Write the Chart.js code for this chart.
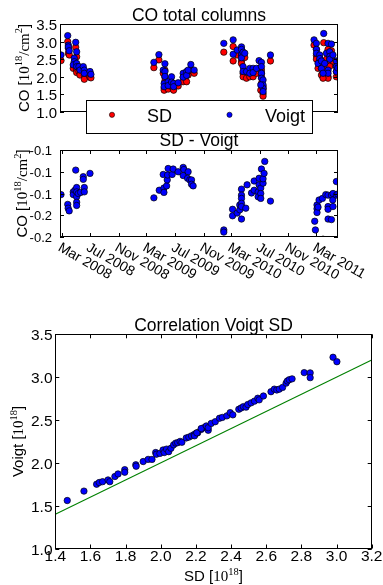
<!DOCTYPE html>
<html><head><meta charset="utf-8">
<script src="https://cdn.jsdelivr.net/npm/chart.js@4.4.0/dist/chart.umd.min.js"></script>
<style>
html,body{margin:0;padding:0;background:#fff;}
#wrap{position:relative;width:383px;height:585px;overflow:hidden;background:#fff;}
canvas{position:absolute;left:0;top:0;}
</style></head>
<body><div id="wrap">
<canvas id="c1" width="383" height="585"></canvas>
<canvas id="c2" width="383" height="585"></canvas>
<canvas id="c3" width="383" height="585"></canvas>
</div>
<script>
// ---------- DATA ----------
// Top panel: CO total columns (dates as decimal years)
const topDates = [
2008.156,2008.235,2008.242,2008.242,2008.253,2008.329,2008.340,2008.312,2008.312,2008.300,2008.340,2008.340,2008.367,2008.379,2008.418,2008.430,2008.430,2008.497,2008.508,
2009.249,2009.308,2009.379,2009.359,2009.379,2009.379,2009.370,2009.370,2009.417,2009.417,2009.457,2009.457,2009.481,2009.481,2009.535,2009.594,2009.594,2009.634,2009.634,2009.652,2009.684,2009.723,
2010.072,2010.182,2010.182,2010.229,2010.280,2010.280,2010.280,2010.280,2010.299,2010.299,2010.299,2010.319,2010.339,2010.378,2010.378,2010.417,2010.417,2010.457,2010.487,2010.515,2010.515,2010.515,2010.515,2010.534,2010.534,2010.534,2010.534,2010.507,2010.621,
2011.134,2011.162,2011.162,2011.162,2011.248,2011.201,2011.201,2011.181,2011.299,2011.299,2011.299,2011.339,2011.280,2011.319,2011.319,2011.319,2011.221,2011.221,2011.240,2011.357,2011.397,2011.397,2011.397,2011.260,2011.413,2011.436];
const topSD = [
2.46,3.00,2.81,2.67,2.62,2.84,2.57,2.36,2.30,2.24,2.19,2.12,2.15,2.05,2.19,2.05,1.93,1.99,1.97,
2.26,2.48,2.19,2.10,1.99,1.88,1.68,1.62,1.75,1.65,1.85,1.72,1.68,1.62,1.74,1.99,1.86,2.04,1.86,2.05,2.19,2.10,
2.70,2.86,2.45,2.62,2.72,2.61,2.45,2.38,2.59,2.10,2.00,2.55,1.96,2.10,2.00,2.10,2.00,2.10,2.24,2.19,2.10,2.00,1.81,1.72,1.65,1.52,1.45,1.62,2.45,
2.90,2.78,2.60,2.50,2.97,2.45,2.36,2.24,2.78,2.00,1.96,2.74,2.50,2.50,2.38,2.30,2.24,2.05,1.96,2.45,2.30,2.15,2.00,2.20,2.10,2.30];
const topVoigt = [
2.62,3.17,2.90,2.85,2.74,2.98,2.71,2.53,2.43,2.34,2.38,2.29,2.29,2.19,2.29,2.19,2.10,2.15,2.07,
2.41,2.63,2.37,2.19,2.15,2.01,1.81,1.72,1.86,1.75,2.00,1.85,1.81,1.72,1.83,2.10,1.99,2.15,2.04,2.19,2.35,2.19,
2.95,3.05,2.64,2.76,2.85,2.78,2.62,2.54,2.70,2.29,2.15,2.67,2.15,2.24,2.10,2.24,2.12,2.24,2.46,2.41,2.29,2.10,1.96,1.91,1.77,1.67,1.58,1.77,2.62,
3.05,2.95,2.78,2.67,3.23,2.62,2.52,2.38,2.95,2.19,2.10,2.93,2.67,2.71,2.58,2.50,2.45,2.24,2.10,2.62,2.45,2.29,2.15,2.38,2.25,2.48];
const topYTicks = [1.0,1.5,2.0,2.5,3.0,3.5];

// Middle panel: SD - Voigt
const diffDates = [
2008.156,2008.235,2008.240,2008.252,2008.329,2008.300,2008.300,2008.320,2008.340,2008.340,2008.340,2008.340,2008.340,2008.359,2008.387,2008.418,2008.418,2008.430,2008.430,2008.497,
2009.249,2009.312,2009.367,2009.367,2009.399,2009.406,2009.359,2009.410,2009.417,2009.464,2009.476,2009.535,2009.594,2009.602,2009.594,2009.652,2009.645,2009.672,2009.692,2009.692,2009.711,
2010.072,2010.072,2010.175,2010.175,2010.229,2010.260,2010.260,2010.280,2010.280,2010.280,2010.280,2010.280,2010.280,2010.331,2010.346,2010.398,2010.429,2010.429,2010.476,2010.476,2010.487,2010.487,2010.507,2010.507,2010.507,2010.515,2010.534,2010.534,2010.546,2010.554,2010.621,
2011.150,2011.142,2011.169,2011.169,2011.169,2011.181,2011.193,2011.240,2011.233,2011.272,2011.299,2011.299,2011.299,2011.299,2011.339,2011.339,2011.354,2011.357,2011.357,2011.397,2011.397,2011.413];
const diffValues = [
-0.142,-0.160,-0.167,-0.172,-0.097,-0.137,-0.142,-0.134,-0.129,-0.137,-0.146,-0.156,-0.162,-0.140,-0.138,-0.109,-0.114,-0.129,-0.137,-0.103,
-0.148,-0.134,-0.130,-0.138,-0.126,-0.115,-0.105,-0.106,-0.094,-0.105,-0.095,-0.100,-0.092,-0.096,-0.107,-0.100,-0.112,-0.115,-0.115,-0.123,-0.126,
-0.207,-0.211,-0.169,-0.181,-0.176,-0.161,-0.170,-0.132,-0.143,-0.149,-0.158,-0.164,-0.187,-0.167,-0.124,-0.139,-0.117,-0.134,-0.137,-0.146,-0.112,-0.124,-0.130,-0.140,-0.149,-0.095,-0.121,-0.113,-0.103,-0.081,-0.154,
-0.207,-0.191,-0.161,-0.168,-0.175,-0.165,-0.152,-0.224,-0.149,-0.142,-0.143,-0.164,-0.169,-0.187,-0.188,-0.143,-0.152,-0.140,-0.164,-0.118,-0.143,-0.141];
const diffYTicks = [-0.22,-0.18,-0.14,-0.10,-0.06];

// Shared date axis
const dateTickValues = [2008.164,2008.497,2008.833,2009.162,2009.496,2009.833,2010.162,2010.496,2010.833,2011.162];
const dateTickLabels = ['Mar 2008','Jul 2008','Nov 2008','Mar 2009','Jul 2009','Nov 2009','Mar 2010','Jul 2010','Nov 2010','Mar 2011'];
const dateMin = 2008.144, dateMax = 2011.416;

// Bottom panel: Correlation Voigt SD
const corrSD = [1.468,1.563,1.635,1.65,1.669,1.70,1.71,1.739,1.757,1.795,1.795,1.858,1.86,1.90,1.928,1.95,1.971,1.975,1.995,2.013,2.02,2.033,2.045,2.058,2.073,2.085,2.096,2.11,2.12,2.145,2.16,2.175,2.19,2.202,2.21,2.23,2.245,2.26,2.27,
2.192,2.205,2.23,2.259,2.27,2.287,2.31,2.334,2.35,2.376,2.395,2.41,2.444,2.457,2.47,2.485,2.495,2.514,2.533,2.552,2.56,2.584,2.627,2.646,2.66,2.674,2.693,2.713,2.72,2.731,2.747,2.816,2.85,2.85,2.98,3.002];
const corrVoigt = [1.56,1.67,1.75,1.77,1.78,1.80,1.78,1.84,1.87,1.92,1.89,1.977,1.96,2.015,2.04,2.04,2.12,2.10,2.11,2.15,2.12,2.16,2.13,2.17,2.21,2.23,2.235,2.25,2.24,2.29,2.30,2.315,2.33,2.346,2.35,2.39,2.41,2.42,2.38,
2.315,2.35,2.40,2.43,2.41,2.46,2.48,2.52,2.53,2.548,2.586,2.56,2.625,2.64,2.656,2.65,2.68,2.70,2.72,2.754,2.735,2.78,2.83,2.86,2.85,2.86,2.88,2.93,2.955,2.97,2.98,3.053,3.05,2.994,3.232,3.18];
const oneToOneX = [1.4,3.2];
const oneToOneY = [1.4,3.2];
const corrXTicks = [1.4,1.6,1.8,2.0,2.2,2.4,2.6,2.8,3.0,3.2];
const corrYTicks = [1.0,1.5,2.0,2.5,3.0,3.5];

// ---------- HELPERS ----------
const SANS = '"Liberation Sans", Arial, Helvetica, sans-serif';
const SERIF = '"Liberation Serif", "Times New Roman", serif';
function pts(xs, ys){ return xs.map((x,i)=>({x:x, y:ys[i]})); }
function dot(color){ return {backgroundColor:color, borderColor:'#000', borderWidth:0.7, pointRadius:3.2, pointHoverRadius:3.2, clip:0}; }

function frame(ctx, a){
  ctx.save(); ctx.strokeStyle='#000'; ctx.lineWidth=1;
  const l=Math.round(a.left), t=Math.round(a.top), r=Math.round(a.right), b=Math.round(a.bottom);
  ctx.strokeRect(l+0.5, t+0.5, r-l-1, b-t-1); ctx.restore();
}
function yTickMarks(ctx, chart, vals, len){
  const a=chart.chartArea, s=chart.scales.y;
  ctx.save(); ctx.strokeStyle='#000'; ctx.lineWidth=1; ctx.beginPath();
  vals.forEach(v=>{ const y=Math.round(s.getPixelForValue(v))+0.5;
    ctx.moveTo(a.left, y); ctx.lineTo(a.left+len, y);
    ctx.moveTo(a.right, y); ctx.lineTo(a.right-len, y); });
  ctx.stroke(); ctx.restore();
}
function xTickMarks(ctx, chart, vals, len){
  const a=chart.chartArea, s=chart.scales.x;
  ctx.save(); ctx.strokeStyle='#000'; ctx.lineWidth=1; ctx.beginPath();
  vals.forEach(v=>{ const x=Math.round(s.getPixelForValue(v))+0.5;
    ctx.moveTo(x, a.bottom); ctx.lineTo(x, a.bottom-len);
    ctx.moveTo(x, a.top); ctx.lineTo(x, a.top+len); });
  ctx.stroke(); ctx.restore();
}
function yLabels(ctx, chart, vals, xRight, fs, fmt){
  const s=chart.scales.y;
  ctx.save(); ctx.fillStyle='#000'; ctx.font=fs+'px '+SANS; ctx.textAlign='right'; ctx.textBaseline='alphabetic';
  vals.forEach(v=>{ ctx.fillText(fmt(v), xRight, s.getPixelForValue(v)+fs*0.36+0.5); });
  ctx.restore();
}
function text(ctx, str, x, y, fs, align){
  ctx.save(); ctx.fillStyle='#000'; ctx.font=fs+'px '+SANS; ctx.textAlign=align||'center'; ctx.textBaseline='alphabetic';
  ctx.fillText(str, x, y); ctx.restore();
}
function rich(ctx, parts, x, y, rot){
  ctx.save(); ctx.translate(x,y); ctx.rotate(rot||0); ctx.fillStyle='#000';
  let w=0; parts.forEach(p=>{ ctx.font=p.f; p.w=ctx.measureText(p.t).width; w+=p.w; });
  let cx=-w/2; ctx.textAlign='left'; ctx.textBaseline='alphabetic';
  parts.forEach(p=>{ ctx.font=p.f; ctx.fillText(p.t, cx, -(p.up||0)); cx+=p.w; });
  ctx.restore();
}
function unitParts(prefix, fs, withCm){
  const p=[{t:prefix+' [', f:fs+'px '+SANS},{t:'10', f:fs+'px '+SERIF},{t:'18', f:(fs*0.7)+'px '+SERIF, up:fs*0.42}];
  if(withCm){ p.push({t:'/cm', f:fs+'px '+SERIF}); p.push({t:'2', f:(fs*0.7)+'px '+SERIF, up:fs*0.42}); }
  p.push({t:']', f:fs+'px '+SANS});
  return p;
}
function baseOptions(pad, xr, yr){
  return {responsive:false, animation:false, devicePixelRatio:1, events:[],
    layout:{padding:pad},
    plugins:{legend:{display:false}, title:{display:false}, tooltip:{enabled:false}},
    scales:{ x:{type:'linear', display:false, min:xr[0], max:xr[1]},
             y:{type:'linear', display:false, min:yr[0], max:yr[1]} } };
}

// ---------- TOP CHART ----------
new Chart(document.getElementById('c1'), {
  type:'scatter',
  data:{datasets:[
    Object.assign({label:'SD', data:pts(topDates, topSD), order:1}, dot('#ff0000')),
    Object.assign({label:'Voigt', data:pts(topDates, topVoigt), order:0}, dot('#0000ff'))
  ]},
  options: baseOptions({left:60, top:24, right:45, bottom:473}, [dateMin, dateMax], [1.0, 3.5]),
  plugins:[{id:'deco1', afterDraw(chart){
    const ctx=chart.ctx, a=chart.chartArea;
    frame(ctx, a);
    yTickMarks(ctx, chart, topYTicks, 4);
    yLabels(ctx, chart, topYTicks, 57, 15, v=>v.toFixed(1));
    text(ctx, 'CO total columns', (a.left+a.right)/2, 20.7, 17.5);
    rich(ctx, unitParts('CO', 15, true), 28.5, (a.top+a.bottom)/2, -Math.PI/2);
    // legend
    ctx.save();
    ctx.fillStyle='#fff'; ctx.fillRect(86, 100, 227, 34);
    ctx.strokeStyle='#000'; ctx.lineWidth=1; ctx.strokeRect(86.5, 100.5, 226, 33);
    [['#ff0000', 112, 'SD', 147], ['#0000ff', 229.5, 'Voigt', 265]].forEach(e=>{
      ctx.beginPath(); ctx.arc(e[1], 114.8, 2.6, 0, Math.PI*2); ctx.fillStyle=e[0]; ctx.fill();
      ctx.lineWidth=0.6; ctx.strokeStyle='#000'; ctx.stroke();
      ctx.fillStyle='#000'; ctx.font='18px '+SANS; ctx.textAlign='left'; ctx.textBaseline='alphabetic';
      ctx.fillText(e[2], e[3], 121.5);
    });
    ctx.restore();
  }}]
});

// ---------- MIDDLE CHART ----------
new Chart(document.getElementById('c2'), {
  type:'scatter',
  data:{datasets:[
    Object.assign({label:'SD - Voigt', data:pts(diffDates, diffValues)}, dot('#0000ff'))
  ]},
  options: baseOptions({left:60, top:150, right:45, bottom:348}, [dateMin, dateMax], [-0.22, -0.06]),
  plugins:[{id:'deco2', afterDraw(chart){
    const ctx=chart.ctx, a=chart.chartArea, sx=chart.scales.x;
    frame(ctx, a);
    yTickMarks(ctx, chart, diffYTicks, 4);
    xTickMarks(ctx, chart, dateTickValues, 4);
    yLabels(ctx, chart, diffYTicks, 52, 13, v=>v.toFixed(1));
    dateTickValues.forEach((v,i)=>{
      const x=sx.getPixelForValue(v);
      ctx.save(); ctx.translate(x+1, a.bottom+3.5); ctx.rotate(Math.PI/6);
      ctx.fillStyle='#000'; ctx.font='14px '+SANS; ctx.textAlign='left'; ctx.textBaseline='top';
      ctx.fillText(dateTickLabels[i], 0, 0); ctx.restore();
    });
    text(ctx, 'SD - Voigt', (a.left+a.right)/2, 146, 17.5);
    rich(ctx, unitParts('CO', 15, true), 27, (a.top+a.bottom)/2, -Math.PI/2);
  }}]
});

// ---------- BOTTOM CHART ----------
new Chart(document.getElementById('c3'), {
  type:'scatter',
  data:{datasets:[
    Object.assign({label:'Voigt vs SD', data:pts(corrSD, corrVoigt), order:0}, dot('#0000ff')),
    {label:'1:1', data:pts(oneToOneX, oneToOneY), showLine:true, borderColor:'#008000', borderWidth:1.1,
     pointRadius:0, backgroundColor:'#008000', order:1, clip:0}
  ]},
  options: baseOptions({left:55.3, top:334.3, right:11.3, bottom:36.5}, [1.4, 3.2], [1.0, 3.5]),
  plugins:[{id:'deco3', afterDraw(chart){
    const ctx=chart.ctx, a=chart.chartArea, sx=chart.scales.x;
    frame(ctx, a);
    yTickMarks(ctx, chart, corrYTicks, 4);
    xTickMarks(ctx, chart, corrXTicks, 4);
    yLabels(ctx, chart, corrYTicks, 52.5, 15.5, v=>v.toFixed(1));
    corrXTicks.forEach(v=>{ text(ctx, v.toFixed(1), sx.getPixelForValue(v), 561, 15.5); });
    text(ctx, 'Correlation Voigt SD', (a.left+a.right)/2, 330.5, 17.5);
    rich(ctx, unitParts('SD', 15, false), (a.left+a.right)/2, 581, 0);
    rich(ctx, unitParts('Voigt', 15, false), 23, (a.top+a.bottom)/2, -Math.PI/2);
  }}]
});
</script>
</body></html>
